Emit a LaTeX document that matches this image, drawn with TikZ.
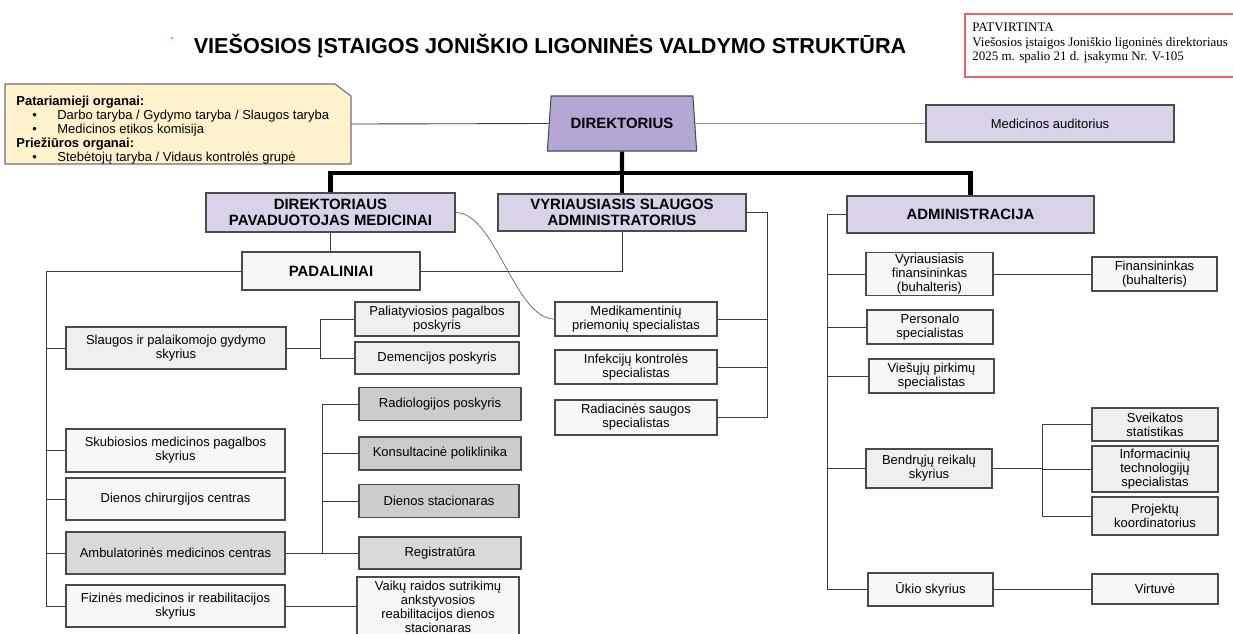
\documentclass[tikz,border=0pt]{standalone}
\usepackage{fontspec}
\setmainfont{Liberation Sans}
\newfontfamily\timesf{Liberation Serif}
\usetikzlibrary{shapes.geometric}
\definecolor{lavD}{HTML}{B4A7D6}
\definecolor{lavL}{HTML}{D9D2E9}
\definecolor{advY}{HTML}{FFF2CC}
\definecolor{gA}{HTML}{F7F7F7}
\definecolor{gB}{HTML}{EFEFEF}
\definecolor{gC}{HTML}{D9D9D9}
\definecolor{gD}{HTML}{CCCCCC}
\definecolor{bordC}{HTML}{4A4A4A}
\definecolor{lineC}{HTML}{3C3C3C}
\definecolor{lineL}{HTML}{8C8C8C}
\definecolor{redC}{HTML}{E06666}
\begin{document}
\begin{tikzpicture}[x=0.02cm,y=-0.02cm,
  box/.style={draw=bordC, line width=0.6pt, inner sep=1pt, align=center, font=\fontsize{7.4}{8.1}\selectfont},
  hbox/.style={box, font=\bfseries\fontsize{8.5}{9.1}\selectfont},
  sz/.style 2 args={minimum width=#1*0.02cm, minimum height=#2*0.02cm},
  conn/.style={draw=lineC, line width=0.5pt},
  bus/.style={draw=black, line width=2.3pt}]
\useasboundingbox (0,0) rectangle (1233,633);
\fill[white] (0,0) rectangle (1233,633);

% title
\node[font=\bfseries\fontsize{12.3}{13}\selectfont] (title) at (550,46) {VIEŠOSIOS ĮSTAIGOS JONIŠKIO LIGONINĖS VALDYMO STRUKTŪRA};
\fill[red] (172,38) circle[radius=0.8];

% approval box
\draw[redC, line width=0.6pt] (1240,14) -- (965,14) -- (965,77) -- (1240,77);
\node[anchor=north west, align=left, inner sep=0, font=\timesf\fontsize{7.4}{8.2}\selectfont] (appr) at (972,23) {PATVIRTINTA\\Viešosios įstaigos Joniškio ligoninės direktoriaus\\2025 m. spalio 21 d. įsakymu Nr. V-105};

% advisory box
\filldraw[fill=advY, draw=bordC!80, line width=0.6pt] (5,84) -- (335,84) -- (351,96) -- (351,164) -- (5,164) -- cycle;
\node[sz={346}{80}, inner sep=0] (adv) at (178,124) {};
\node[anchor=north west, align=left, inner sep=0, font=\fontsize{7.4}{7.95}\selectfont] (advt) at (16,95.5) {\textbf{Patariamieji organai:}\\
\makebox[0.82cm][l]{\hspace{0.32cm}•}Darbo taryba / Gydymo taryba / Slaugos taryba\\
\makebox[0.82cm][l]{\hspace{0.32cm}•}Medicinos etikos komisija\\
\textbf{Priežiūros organai:}\\
\makebox[0.82cm][l]{\hspace{0.32cm}•}Stebėtojų taryba / Vidaus kontrolės grupė};

% top level
\node[trapezium, trapezium stretches=true, trapezium left angle=75.7, trapezium right angle=75.7, minimum width=3cm, minimum height=1.1cm, fill=lavD, draw=bordC, line width=0.6pt, inner sep=0, font=\bfseries\fontsize{8.5}{8.6}\selectfont] (dir) at (622,123.5) {DIREKTORIUS};
\node[box, fill=lavL, sz={248}{37}] (aud) at (1050,123.5) {Medicinos auditorius};

\node[hbox, fill=lavL, sz={249}{39}] (dpm) at (330.5,212.5) {DIREKTORIAUS\\PAVADUOTOJAS MEDICINAI};
\node[hbox, fill=lavL, sz={248}{37}] (vsa) at (622,212.5) {VYRIAUSIASIS SLAUGOS\\ADMINISTRATORIUS};
\node[hbox, fill=lavL, sz={247}{37}] (adm) at (970.5,214.5) {ADMINISTRACIJA};
\node[hbox, fill=gA, sz={178}{38}] (pad) at (331,271) {PADALINIAI};

% left column
\node[box, fill=gB, sz={220}{42}] (slg) at (176,348) {Slaugos ir palaikomojo gydymo\\skyrius};
\node[box, fill=gA, sz={219}{43}] (sku) at (175.5,450.5) {Skubiosios medicinos pagalbos\\skyrius};
\node[box, fill=gA, sz={219}{42}] (die) at (175.5,499) {Dienos chirurgijos centras};
\node[box, fill=gC, sz={219}{42}] (amb) at (175.5,553) {Ambulatorinės medicinos centras};
\node[box, fill=gA, sz={219}{42}] (fiz) at (175.5,606) {Fizinės medicinos ir reabilitacijos\\skyrius};

% sub units
\node[box, fill=gB, sz={164}{34}] (pal) at (437,319) {Paliatyviosios pagalbos\\poskyris};
\node[box, fill=gB, sz={164}{32}] (dem) at (437,358) {Demencijos poskyris};
\node[box, fill=gD, sz={162}{33}] (rad) at (440,404) {Radiologijos poskyris};
\node[box, fill=gD, sz={162}{33}] (kon) at (440,453.5) {Konsultacinė poliklinika};
\node[box, fill=gD, sz={160}{33}] (dst) at (439,501) {Dienos stacionaras};
\node[box, fill=gC, sz={162}{32}] (reg) at (440,553) {Registratūra};
\node[box, fill=gA, sz={162}{60}, font=\fontsize{7.4}{7.9}\selectfont] (vai) at (438,607) {Vaikų raidos sutrikimų\\ankstyvosios\\reabilitacijos dienos\\stacionaras};

% middle
\node[box, fill=gA, sz={162}{34}] (med) at (636,319) {Medikamentinių\\priemonių specialistas};
\node[box, fill=gA, sz={162}{34}] (inf) at (636,367) {Infekcijų kontrolės\\specialistas};
\node[box, fill=gA, sz={162}{35}] (rds) at (636,417.5) {Radiacinės saugos\\specialistas};

% right
\node[box, fill=gA, sz={127}{42}, font=\fontsize{7.4}{7.9}\selectfont] (vfin) at (929.5,274) {Vyriausiasis\\finansininkas\\(buhalteris)};
\node[box, fill=gA, sz={126}{34}] (per) at (930,327) {Personalo\\specialistas};
\node[box, fill=gA, sz={125}{34}] (vpk) at (931.5,376) {Viešųjų pirkimų\\specialistas};
\node[box, fill=gB, sz={126}{39}] (bnd) at (929,468.5) {Bendrųjų reikalų\\skyrius};
\node[box, fill=gA, sz={125}{33}] (uki) at (930.5,589.5) {Ūkio skyrius};
\node[box, fill=gA, sz={125}{34}] (fin) at (1154.5,274) {Finansininkas\\(buhalteris)};
\node[box, fill=gB, sz={126}{33}] (sve) at (1155,424.5) {Sveikatos\\statistikas};
\node[box, fill=gB, sz={126}{46}, font=\fontsize{7.4}{7.9}\selectfont] (itx) at (1155,469) {Informacinių\\technologijų\\specialistas};
\node[box, fill=gB, sz={126}{38}] (prj) at (1155,516) {Projektų\\koordinatorius};
\node[box, fill=gA, sz={126}{30}] (vir) at (1155,589) {Virtuvė};

% connectors top
\draw[conn] (adv.east) -- (dir.west);
\draw[conn, draw=lineL] (dir.east) -- (aud.west);
\coordinate (busc) at (622,173);
\draw[bus] (dir.south) -- (busc);
\draw[bus] (dpm.north) -- (dpm.north |- busc) -- (adm.north |- busc) -- (adm.north);
\draw[bus] (busc) -- (vsa.north);

% left
\draw[conn] (dpm.south) -- (dpm.south |- pad.north);
\draw[conn] (pad.east) -| (vsa.south);
\coordinate (lb) at (46,271);
\draw[conn] (pad.west) -- (lb) -- (lb |- fiz.west) -- (fiz.west);
\foreach \n in {slg,sku,die,amb} \draw[conn] (lb |- \n.west) -- (\n.west);
\coordinate (sj) at (320,348);
\draw[conn] (slg.east) -- (sj);
\draw[conn] (sj |- pal.west) -- (sj |- dem.west);
\foreach \n in {pal,dem} \draw[conn] (sj |- \n.west) -- (\n.west);
\coordinate (aj) at (322,553);
\draw[conn] (amb.east) -- (reg.west);
\draw[conn] (aj |- rad.west) -- (aj);
\foreach \n in {rad,kon,dst} \draw[conn] (aj |- \n.west) -- (\n.west);
\draw[conn] (fiz.east) -- (fiz.east -| vai.west);

% middle
\coordinate (vj) at (767,213);
\draw[conn] (vsa.east) -- (vsa.east -| vj) -- (vj |- rds.east) -- (rds.east);
\foreach \n in {med,inf} \draw[conn] (\n.east) -- (\n.east -| vj);
\draw[conn, line width=0.45pt, draw=lineL!80!black] (dpm.east) .. controls +(40,0) and +(-40,0) .. (med.west);

% right
\coordinate (rj) at (827,214.5);
\draw[conn] (adm.west) -- (rj) -- (rj |- uki.west) -- (uki.west);
\foreach \n in {vfin,per,vpk,bnd} \draw[conn] (rj |- \n.west) -- (\n.west);
\draw[conn] (vfin.east) -- (vfin.east -| fin.west);
\coordinate (bj) at (1042,469);
\draw[conn] (bnd.east) -- (bnd.east -| bj);
\draw[conn] (bj |- sve.west) -- (bj |- prj.west);
\foreach \n in {sve,itx,prj} \draw[conn] (bj |- \n.west) -- (\n.west);
\draw[conn] (uki.east) -- (uki.east -| vir.west);
\end{tikzpicture}
\end{document}
